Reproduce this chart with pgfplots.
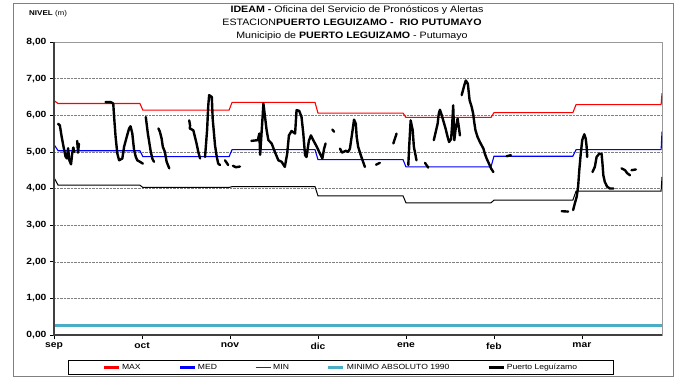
\documentclass[border=0pt]{standalone}
\usepackage{fontspec}
\setmainfont{Liberation Sans}[FakeStretch=1.15]
\usepackage{pgfplots}
\pgfplotsset{compat=1.18}
\definecolor{minabs}{RGB}{75,172,198}
\definecolor{maxred}{RGB}{255,0,0}
\definecolor{medblue}{RGB}{0,0,255}

\begin{document}
\begin{tikzpicture}
\path (0bp,0bp) rectangle (679bp,378bp);
\draw[gray, line width=0.8bp] (13bp,2bp) rectangle (673bp,375bp);
% titles
\node[anchor=base] at (357bp,365bp) {\fontsize{9.3}{10}\selectfont\textbf{IDEAM -} Oficina del Servicio de Pronósticos y Alertas};
\node[anchor=base] at (352bp,352bp) {\fontsize{9.3}{10}\selectfont ESTACION\textbf{PUERTO LEGUIZAMO -\ \ RIO PUTUMAYO}};
\node[anchor=base] at (352bp,339.5bp) {\fontsize{9.3}{10}\selectfont Municipio de \textbf{PUERTO LEGUIZAMO} - Putumayo};
\node[anchor=base west, inner sep=0pt] at (29bp,362bp) {\fontsize{7}{8}\selectfont\textbf{NIVEL} (m)};

\begin{axis}[
  name=ax,
  at={(54bp,43bp)}, anchor=south west,
  scale only axis, width=608bp, height=293bp,
  xmin=0, xmax=207.3, ymin=0, ymax=8,
  xtick={0,30,60,90,120,150,180},
  xticklabels={sep,oct,nov,dic,ene,feb,mar},
  ytick={0,1,...,8},
  ymajorgrids,
  grid style={densely dotted, gray, line width=0.5bp},
  tick align=outside, xtick pos=bottom, ytick pos=left,
  major tick length=4bp,
  tick style={black, line width=0.6bp},
  axis line style={gray!80, line width=0.7bp},
  yticklabel style={font=\fontsize{9}{10}\selectfont\bfseries,
    /pgf/number format/.cd, fixed, fixed zerofill, precision=2, use comma, assume math mode=true},
  xticklabel style={font=\fontsize{9}{10}\selectfont\bfseries},
  unbounded coords=jump,
  legend columns=5,
  legend style={at={(0.472,-0.111)}, anchor=center, draw=black, line width=0.8bp,
    font=\fontsize{7.5}{8}\selectfont, inner xsep=34bp, inner ysep=1.5bp,
    /tikz/every even column/.append style={column sep=36bp}},
  legend image code/.code={\draw[#1] (0bp,0bp) -- (15bp,0bp);},
]
\addlegendimage{draw=maxred, line width=2.2bp}
\addlegendentry{MAX}
\addlegendimage{draw=medblue, line width=2.2bp}
\addlegendentry{MED}
\addlegendimage{draw=black!80, line width=1.3bp}
\addlegendentry{MIN}
\addlegendimage{draw=minabs, line width=3bp}
\addlegendentry{MINIMO ABSOLUTO 1990}
\addlegendimage{draw=black, line width=2.4bp}
\addlegendentry{Puerto Leguízamo}

\addplot[color=maxred, line width=1.1bp, forget plot] coordinates {
 (0,6.40) (1.4,6.32) (29.3,6.32) (30.3,6.14) (59.7,6.14) (60.7,6.35) (89.0,6.35) (90.0,6.06)
 (119.0,6.06) (120.0,5.94) (149.0,5.94) (150.0,6.07) (176.9,6.07) (178.0,6.29) (207.0,6.29) (207.3,6.60)};
\addplot[color=medblue, line width=1.1bp, forget plot] coordinates {
 (0,5.20) (1.4,5.03) (29.3,5.03) (30.3,4.87) (59.7,4.87) (60.7,5.06) (89.0,5.06) (90.0,4.79)
 (119.0,4.79) (120.0,4.59) (149.0,4.59) (150.0,4.88) (176.9,4.88) (178.0,5.06) (207.0,5.06) (207.3,5.55)};
\addplot[color=black, line width=1bp, forget plot] coordinates {
 (0,4.30) (1.4,4.09) (29.3,4.09) (30.3,4.03) (59.7,4.03) (60.7,4.05) (89.0,4.05) (90.0,3.80)
 (119.0,3.80) (120.0,3.61) (149.0,3.61) (150.0,3.68) (176.9,3.68) (178.0,3.93) (207.0,3.93) (207.3,4.32)};
\addplot[color=minabs, line width=3bp, forget plot] coordinates {(0,0.27) (207.3,0.27)};
\addplot[color=black, line width=2.4bp, line join=round, line cap=round, forget plot] coordinates {
 (1.4,5.77) (2.0,5.72) (2.6,5.42) (3.3,5.12) (3.9,4.88) (4.4,4.82) (4.8,5.10) (5.2,4.78) (5.8,4.66) (6.2,4.95) (6.6,5.12) (6.9,5.00)
 (7.4,nan)
 (7.9,5.30) (8.2,4.98) (8.5,5.22)
 (9,nan)
 (17.6,6.36) (19.3,6.36) (20.2,6.32) (20.5,5.95) (21.0,5.41) (21.6,4.95) (22.2,4.77) (23.3,4.82) (23.9,5.14) (24.8,5.41) (25.6,5.64) (26.1,5.70) (26.7,5.50) (27.3,5.05) (27.9,4.86) (28.4,4.77) (29.3,4.73) (30.3,4.68)
 (30.8,nan)
 (31.3,5.95) (32.0,5.50) (33.0,5.00) (33.6,4.80) (34.1,4.73)
 (35,nan)
 (35.6,5.64) (36.1,5.55) (36.7,5.36) (37.1,5.14) (37.8,5.00) (38.4,4.73) (39.3,4.55)
 (40,nan)
 (46.1,5.86) (46.4,5.72) (46.3,5.64) (47.5,5.59) (48.6,5.23) (49.2,5.00) (49.8,4.82)
 (50.5,nan)
 (51.5,4.86) (52.2,5.60) (52.6,6.27) (52.9,6.55) (53.8,6.50) (54.1,5.91) (54.9,5.18) (55.5,4.86) (56.0,4.68) (56.6,4.64)
 (57.5,nan)
 (58.3,4.77) (59.4,4.64)
 (60,nan)
 (61.0,4.62) (62.0,4.58) (63.4,4.60)
 (65,nan)
 (67.3,5.30) (69.5,5.32) (70.0,5.50) (70.3,4.92) (71.4,6.32) (72.5,5.59) (73.1,5.32) (74.2,5.23) (75.3,5.00) (76.5,4.77) (77.6,4.73) (78.7,4.59) (79.5,4.95) (80.1,5.45) (81.0,5.57) (82.2,5.50) (82.7,6.14) (83.6,6.12) (84.4,5.95) (85.0,5.50) (85.6,4.91) (86.1,4.86) (86.9,5.30) (87.6,5.45) (88.4,5.32) (89.6,5.14) (90.7,4.95) (91.5,4.82) (92.1,5.09) (92.6,5.23)
 (93.5,nan)
 (94.9,5.61) (95.5,5.55)
 (96.5,nan)
 (97.5,5.09) (98.2,4.98) (99.5,5.03) (100.3,5.00) (100.9,5.09) (101.8,5.59) (102.3,5.88) (102.9,5.77) (103.2,5.41) (103.7,5.14) (104.6,4.91) (105.2,4.77) (106.0,4.59)
 (108,nan)
 (109.8,4.65) (111.1,4.70)
 (113,nan)
 (115.7,5.23) (116.8,5.50)
 (118,nan)
 (120.8,4.64) (121.1,5.14) (121.6,5.86) (122.3,5.59) (122.7,5.14) (123.6,4.77)
 (125,nan)
 (126.5,4.70) (127.6,4.57)
 (128.5,nan)
 (129.5,5.32) (130.8,5.77) (131.2,6.05) (131.6,6.15) (132.2,6.00) (132.7,5.86) (133.5,5.64) (134.2,5.41) (134.7,5.27) (135.4,5.35) (135.8,5.80) (136.1,6.27) (136.5,5.32) (136.9,5.60) (137.6,5.91) (138.0,5.70) (138.4,5.45)
 (138.7,nan)
 (139.0,6.55) (139.9,6.82) (140.4,6.95) (141.1,6.86) (141.7,6.41) (142.4,6.23) (142.9,6.05) (143.3,5.80) (143.7,5.59) (144.4,5.41) (145.2,5.27) (146.4,5.09) (146.9,4.95) (147.5,4.82) (148.3,4.68) (149.0,4.55) (149.8,4.45)
 (152,nan)
 (154.3,4.88) (155.8,4.91)
 (165,nan)
 (173.1,3.38) (175.3,3.37)
 (176,nan)
 (177.0,3.41) (177.6,3.60) (178.2,3.77) (178.7,4.05) (179.1,4.50) (179.6,4.95) (180.1,5.32) (180.8,5.48) (181.3,5.36) (181.6,5.14) (181.8,4.86)
 (182.7,nan)
 (183.6,4.45) (184.4,4.59) (185.0,4.86) (185.9,4.95) (186.7,4.95) (187.0,4.68) (187.3,4.36) (187.8,4.18) (188.6,4.05) (189.5,4.00) (190.7,4.00)
 (192,nan)
 (193.5,4.55) (194.7,4.50) (195.4,4.42) (196.4,4.36)
 (196.6,nan)
 (196.9,4.50) (198.4,4.52)
};
\end{axis}
\draw[gray!50!black, line width=1.1bp] (ax.north west) -- (ax.south west) -- (ax.south east);
\end{tikzpicture}
\end{document}
